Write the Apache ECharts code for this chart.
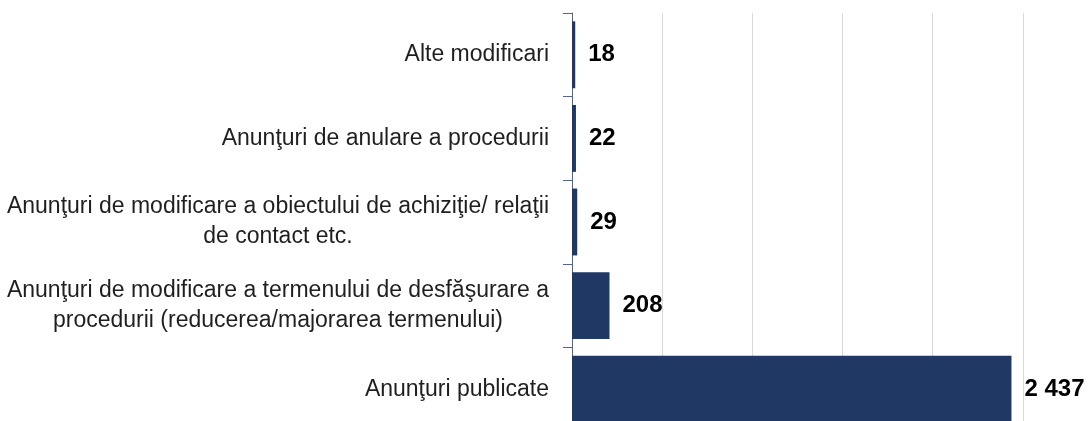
<!DOCTYPE html>
<html>
<head>
<meta charset="utf-8">
<script src="https://cdn.jsdelivr.net/npm/echarts@6/dist/echarts.min.js"></script>
<style>html,body{margin:0;padding:0;background:#fff}#c{width:1089px;height:421px}</style>
</head>
<body>
<div id="c"></div>
<script>
// Categories, top to bottom
const categories = [
  'Alte modificari',
  'Anunţuri de anulare a procedurii',
  'Anunţuri de modificare a obiectului de achiziţie/ relaţii\nde contact etc.',
  'Anunţuri de modificare a termenului de desfăşurare a\nprocedurii (reducerea/majorarea termenului)',
  'Anunţuri publicate'
];
const values = [18, 22, 29, 208, 2437];
const axisMin = 0;
const axisMax = 3000;
const axisInterval = 500;

const chart = echarts.init(document.getElementById('c'), null, {renderer: 'canvas'});
chart.setOption({
  animation: false,
  grid: {left: 572, top: 13, width: 541, height: 418, containLabel: false, outerBoundsMode: 'none'},
  xAxis: {
    type: 'value', min: axisMin, max: axisMax, interval: axisInterval,
    axisLabel: {show: false}, axisLine: {show: false}, axisTick: {show: false},
    splitLine: {show: true, lineStyle: {color: '#d9d9d9', width: 1}}
  },
  yAxis: {
    type: 'category', inverse: true, data: categories,
    axisLine: {show: true, lineStyle: {color: '#52658a', width: 1}},
    axisTick: {show: true, length: 9, lineStyle: {color: '#52658a'}},
    axisLabel: {
      margin: 23,
      formatter: function (v) { return v.split('\n').map(function (l) { return '{c|' + l + '}'; }).join('\n'); },
      rich: {c: {align: 'center', fontFamily: 'Liberation Sans', fontSize: 23, color: '#1f1f1f', lineHeight: 30}}
    }
  },
  series: [{
    type: 'bar', data: values, barCategoryGap: '20%',
    itemStyle: {color: '#203864'},
    label: {
      show: true, position: 'right', distance: 13,
      fontFamily: 'Liberation Sans', fontWeight: 'bold', fontSize: 24, color: '#000',
      formatter: function (p) { return String(p.value).replace(/\B(?=(\d{3})+(?!\d))/g, ' '); }
    }
  }]
});
</script>
</body>
</html>
